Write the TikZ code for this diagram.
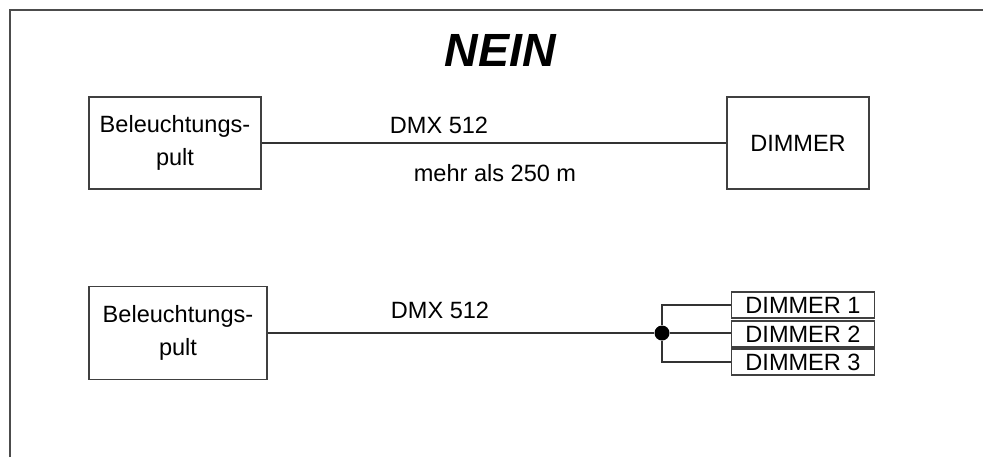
\documentclass[tikz,border=0pt]{standalone}
\usepackage{fontspec}
\setmainfont{Liberation Sans}
\usetikzlibrary{positioning}

\begin{document}
\begin{tikzpicture}[x=0.02cm,y=-0.02cm,
		box/.style={draw=black!75,line width=0.6pt,align=center,inner sep=0pt},
		wire/.style={draw=black!80,line width=0.6pt}]
				\fontsize{13.4}{18.8}\selectfont
				\useasboundingbox (0,0) rectangle (983,457);
				\draw[black!70,line width=0.8pt] (10,457) -- (10,10) -- (983,10);
				\node (titel) at (500,50) {\fontsize{26.5}{30}\selectfont\bfseries\itshape NEIN};
				\node[box,minimum width=3.44cm,minimum height=1.84cm] (pult1) at (175,143) {Beleuchtungs-\\pult};
				\node[box,minimum width=2.84cm,minimum height=1.84cm] (dimmer) at (798,143) {DIMMER};
				\draw[wire] (pult1) -- (dimmer);
				\node (dmx1) at (439,125) {DMX 512};
				\node (laenge) at (495,173) {mehr als 250 m};
				\node[box,minimum width=3.56cm,minimum height=1.86cm] (pult2) at (178,333) {Beleuchtungs-\\pult};
				\node[circle,fill=black,inner sep=0pt,minimum size=0.3cm] (knoten) at (662,333) {};
				\draw[wire] (pult2) -- (knoten);
				\node (dmx2) at (440,310) {DMX 512};
				\foreach \n/\y in {1/305,2/334,3/362}
				{
					\node[box,minimum width=2.86cm,minimum height=0.52cm] (dim\n) at (803,\y) {DIMMER \n};
				}
				\draw[wire] (knoten) |- (dim1.west);
				\draw[wire] (knoten) -- (knoten -| dim2.west);
				\draw[wire] (knoten) |- (dim3.west);
			\end{tikzpicture}
\end{document}
